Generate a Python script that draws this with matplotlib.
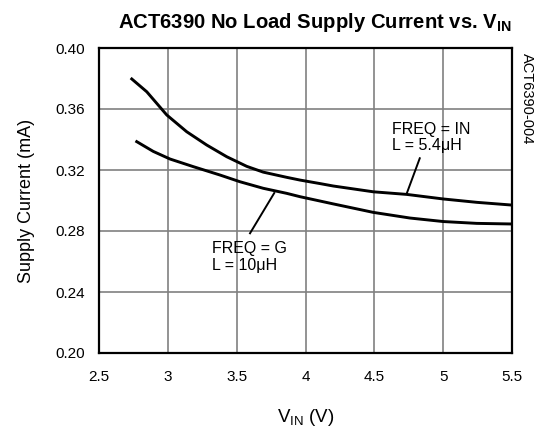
import matplotlib
matplotlib.use("Agg")
import matplotlib.pyplot as plt

plt.rcParams['font.family'] = ['Liberation Sans', 'DejaVu Sans']

v_in_freq = [2.738, 2.847, 2.992, 3.137, 3.282, 3.428, 3.573, 3.693, 3.863, 3.96,
             4.105, 4.202, 4.493, 4.735, 5.001, 5.244, 5.5]
i_in_freq = [0.3797, 0.3713, 0.3561, 0.3451, 0.3364, 0.3287, 0.3224, 0.3186, 0.3152, 0.3134,
             0.3111, 0.3095, 0.3057, 0.3040, 0.3010, 0.2988, 0.2970]
v_g = [2.774, 2.894, 3.016, 3.185, 3.379, 3.524, 3.693, 3.863, 3.96, 4.2,
       4.493, 4.759, 5.001, 5.244, 5.5]
i_g = [0.3386, 0.3322, 0.3272, 0.3222, 0.3167, 0.3123, 0.3080, 0.3047, 0.3025, 0.2978,
       0.2922, 0.2885, 0.2862, 0.2850, 0.2846]

xticks = [2.5, 3, 3.5, 4, 4.5, 5, 5.5]
xticklabels = ['2.5', '3', '3.5', '4', '4.5', '5', '5.5']
yticks = [0.20, 0.24, 0.28, 0.32, 0.36, 0.40]
yticklabels = ['0.20', '0.24', '0.28', '0.32', '0.36', '0.40']

fig = plt.figure(figsize=(5.39, 4.28), dpi=100)
ax = fig.add_axes([99/539, 1-353/428, (512-99)/539, (353-48)/428])
ax.plot(v_in_freq, i_in_freq, color='black', lw=2.1, solid_joinstyle='round', zorder=3)
ax.plot(v_g, i_g, color='black', lw=2.1, solid_joinstyle='round', zorder=3)
ax.set_xlim(2.5, 5.5)
ax.set_ylim(0.20, 0.40)
ax.set_xticks(xticks)
ax.set_xticklabels(xticklabels)
ax.set_yticks(yticks)
ax.set_yticklabels(yticklabels)
ax.tick_params(length=0, labelsize=11)
ax.tick_params(axis='x', pad=12)
ax.tick_params(axis='y', pad=10)
ax.grid(True, color='#808080', lw=1.2)
ax.set_axisbelow(True)
for s in ax.spines.values():
    s.set_linewidth(1.6)
    s.set_color('black')
    s.set_zorder(5)

ax.set_xlabel('V$_{\\mathregular{IN}}$ (V)', fontsize=13.5, labelpad=17)
ax.set_ylabel('Supply Current (mA)', fontsize=13, labelpad=15)
fig.text(314.5/539, 1-22/428, 'ACT6390 No Load Supply Current vs. V$_{\\mathregular{IN}}$',
         fontsize=14.6, fontweight='bold', ha='center', va='center')
fig.text(527/539, 1-53/428, 'ACT6390-004', rotation=-90, fontsize=10.5, ha='center', va='top')

ax.text(4.626, 0.3413, 'FREQ = IN\nL = 5.4μH', fontsize=11.5, ha='left', va='center', linespacing=1.15)
ax.plot([4.83, 4.735], [0.3277, 0.3045], color='black', lw=1.4)
ax.text(3.319, 0.2627, 'FREQ = G\nL = 10μH', fontsize=11.5, ha='left', va='center', linespacing=1.15)
ax.plot([3.773, 3.597], [0.3049, 0.2785], color='black', lw=1.4)

fig.savefig('out.png', dpi=100)
